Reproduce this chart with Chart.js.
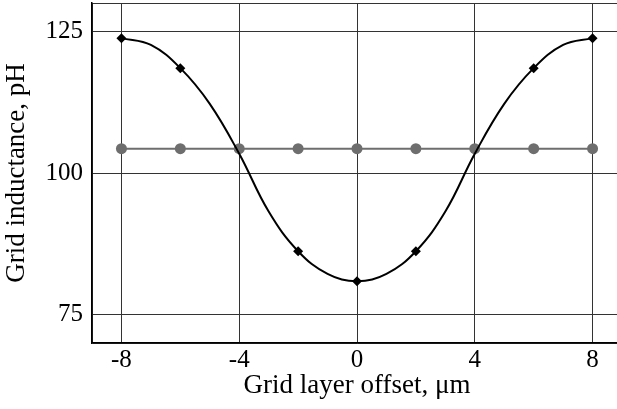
<!DOCTYPE html>
<html>
<head>
<meta charset="utf-8">
<script src="https://cdn.jsdelivr.net/npm/chart.js@4/dist/chart.umd.min.js"></script>
<style>
html,body{margin:0;padding:0;background:#fff;overflow:hidden;width:617px;height:409px;}
canvas{display:block;}
</style>
</head>
<body>
<canvas id="c" width="622" height="409"></canvas>
<script>
// Data
const curveX = [-8,-7,-6,-5,-4,-3,-2,-1,0,1,2,3,4,5,6,7,8];
const curveY = [123.8,122.6,118.5,112.2,103.4,93.2,86.2,82.2,80.9,82.2,86.2,93.2,103.4,112.2,118.5,122.6,123.8];
const diamondX = [-8,-6,-2,0,2,6,8];
const diamondY = [123.8,118.5,86.2,80.9,86.2,118.5,123.8];
const grayX = [-8,-6,-4,-2,0,2,4,6,8];
const grayY = [104.3,104.3,104.3,104.3,104.3,104.3,104.3,104.3,104.3];
const xTicks = [-9,-8,-4,0,4,8];
const yTicks = [70,75,100,125,130];
const xLabelTicks = [-8,-4,0,4,8];
const yLabelTicks = [75,100,125];

const pts = (xs, ys) => xs.map((x, i) => ({x: x, y: ys[i]}));
const FONT = '"Liberation Serif", "Times New Roman", serif';

new Chart(document.getElementById('c'), {
  type: 'line',
  data: {
    datasets: [
      {
        data: pts(grayX, grayY),
        borderColor: '#6e6e6e',
        backgroundColor: '#6e6e6e',
        borderWidth: 2,
        pointStyle: 'circle',
        pointRadius: 5.5,
        pointBorderWidth: 0,
        tension: 0,
        order: 3
      },
      {
        data: pts(curveX, curveY),
        borderColor: '#000',
        borderWidth: 2,
        pointRadius: 0,
        tension: 0.4,
        order: 2
      },
      {
        data: pts(diamondX, diamondY),
        showLine: false,
        borderColor: '#000',
        backgroundColor: '#000',
        pointStyle: 'rectRot',
        pointRadius: 5,
        pointBorderWidth: 0,
        order: 1
      }
    ]
  },
  options: {
    responsive: false,
    animation: false,
    layout: {autoPadding: false, padding: {top: 3, left: 0, right: 0, bottom: 0}},
    plugins: {legend: {display: false}, tooltip: {enabled: false}},
    scales: {
      x: {
        type: 'linear',
        min: -9,
        max: 9,
        afterBuildTicks: s => { s.ticks = xTicks.map(v => ({value: v})); },
        afterFit: s => { s.height = 66; s.paddingLeft = 0; s.paddingRight = 0; },
        ticks: {
          font: {family: FONT, size: 25},
          color: '#000',
          padding: 2,
          maxRotation: 0,
          callback: v => xLabelTicks.includes(v) ? String(v) : ''
        },
        grid: {color: '#333', lineWidth: 1, drawTicks: false},
        border: {display: true, color: '#000', width: 1.5},
        title: {
          display: true,
          text: 'Grid layer offset, \u03bcm',
          font: {family: FONT, size: 27},
          color: '#000',
          padding: {top: 0, bottom: 7}
        }
      },
      y: {
        type: 'linear',
        min: 70,
        max: 130,
        afterBuildTicks: s => { s.ticks = yTicks.map(v => ({value: v})); },
        afterFit: s => { s.width = 92; s.paddingTop = 0; s.paddingBottom = 0; },
        ticks: {
          font: {family: FONT, size: 25},
          color: '#000',
          padding: 9,
          callback: v => yLabelTicks.includes(v) ? String(v) : ''
        },
        grid: {color: '#333', lineWidth: 1, drawTicks: false},
        border: {display: true, color: '#000', width: 1.5},
        title: {
          display: true,
          text: 'Grid inductance, pH',
          font: {family: FONT, size: 27},
          color: '#000',
          padding: {top: 1, bottom: 0}
        }
      }
    }
  }
});
</script>
</body>
</html>
